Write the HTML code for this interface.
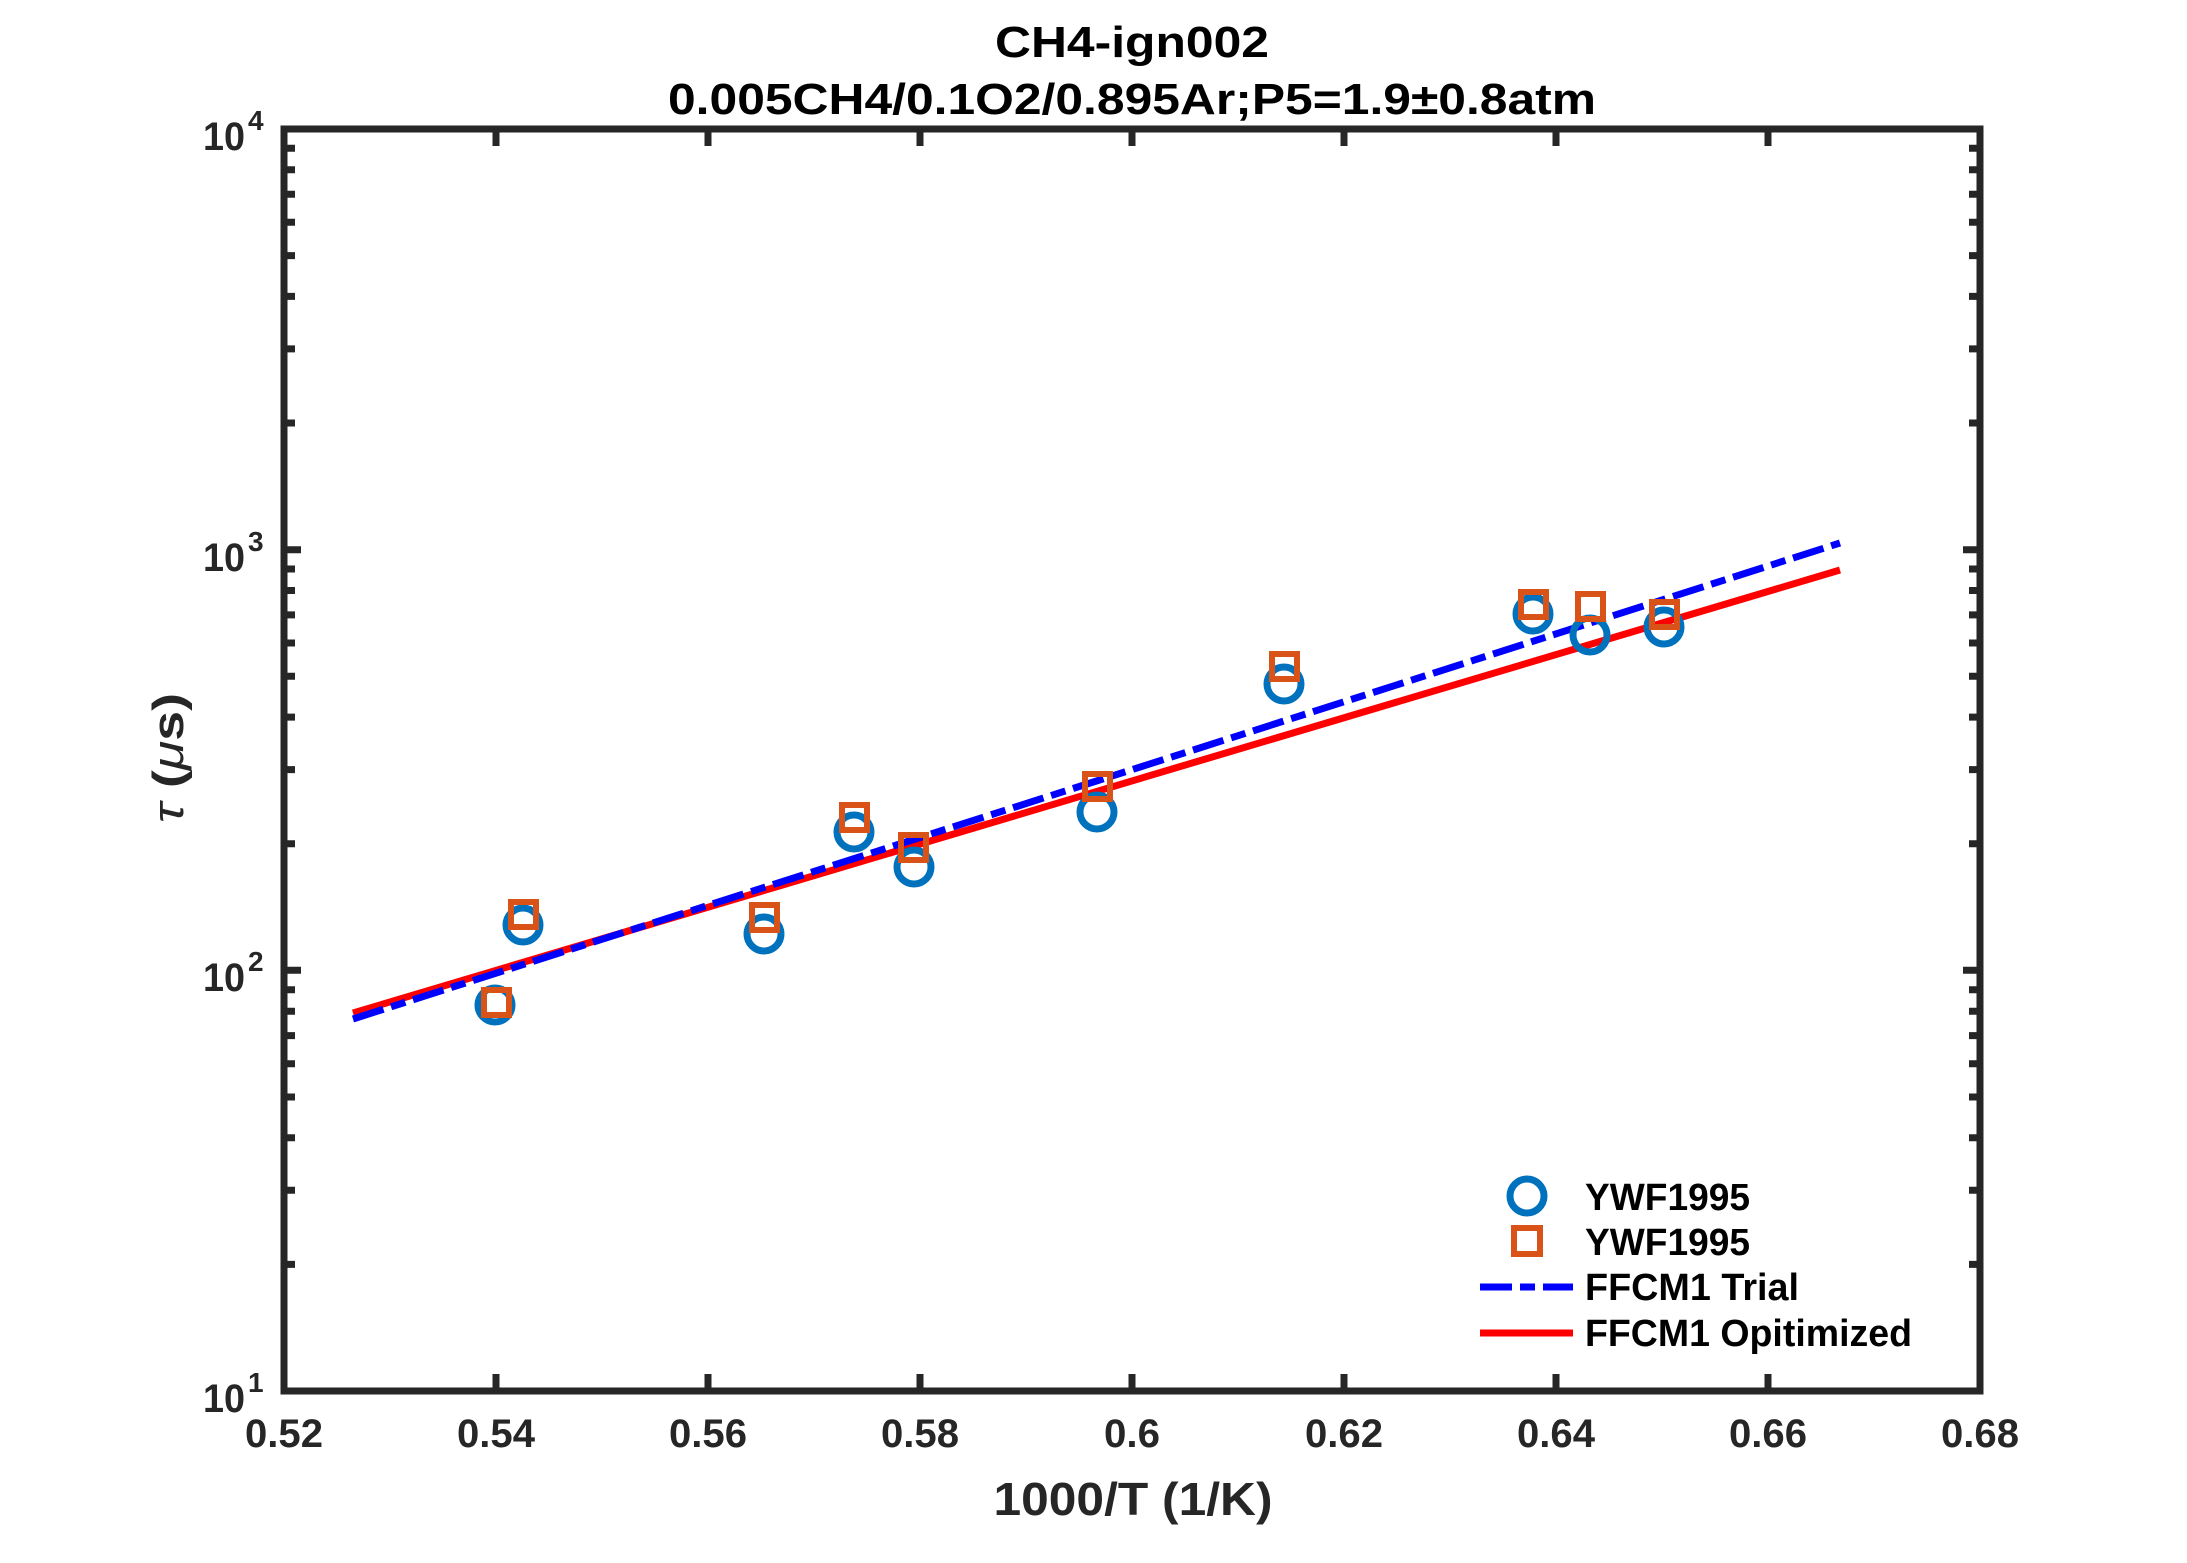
<!DOCTYPE html>
<html><head><meta charset="utf-8"><style>html,body{margin:0;padding:0;background:#fff}svg{display:block}</style></head>
<body>
<svg width="2187" height="1563" viewBox="0 0 2187 1563" xmlns="http://www.w3.org/2000/svg" font-family="Liberation Sans, Arial, sans-serif" font-weight="bold">
<rect width="2187" height="1563" fill="#fff"/>
<!-- title -->
<text x="1132" y="57" font-size="44" text-anchor="middle" fill="#000" textLength="274" lengthAdjust="spacingAndGlyphs">CH4-ign002</text>
<text x="1132" y="114" font-size="44" text-anchor="middle" fill="#000" textLength="928" lengthAdjust="spacingAndGlyphs">0.005CH4/0.1O2/0.895Ar;P5=1.9±0.8atm</text>

<!-- series lines -->
<line x1="353" y1="1013" x2="1840" y2="570" stroke="#ff0000" stroke-width="7"/>
<line x1="353" y1="1019" x2="1840" y2="543" stroke="#0000ff" stroke-width="7" stroke-dasharray="32,8,15,8"/>

<!-- circles -->
<g fill="none" stroke="#0072bd" stroke-width="7">
<circle cx="495" cy="1005" r="17"/><circle cx="523" cy="925" r="17"/><circle cx="764" cy="934" r="17"/>
<circle cx="854" cy="832" r="17"/><circle cx="914" cy="867" r="17"/><circle cx="1097" cy="812" r="17"/>
<circle cx="1284" cy="684" r="17"/><circle cx="1533" cy="614" r="17"/><circle cx="1590" cy="635" r="17"/>
<circle cx="1664" cy="627" r="17"/>
</g>
<!-- squares -->
<g fill="none" stroke="#d95319" stroke-width="6">
<rect x="484" y="990" width="25" height="25"/><rect x="511" y="902" width="25" height="25"/><rect x="752" y="905" width="25" height="25"/>
<rect x="842" y="805" width="25" height="25"/><rect x="901" y="835" width="25" height="25"/><rect x="1085" y="774" width="25" height="25"/>
<rect x="1272" y="654" width="25" height="25"/><rect x="1521" y="592" width="25" height="25"/><rect x="1578" y="594" width="25" height="25"/>
<rect x="1652" y="602" width="25" height="25"/>
</g>

<!-- axes box -->
<rect x="284" y="129" width="1696" height="1262" fill="none" stroke="#262626" stroke-width="7"/>
<!-- ticks -->
<g stroke="#262626" stroke-width="7">
<path d="M496,1391v-17M708,1391v-17M920,1391v-17M1132,1391v-17M1344,1391v-17M1556,1391v-17M1768,1391v-17
M496,129v17M708,129v17M920,129v17M1132,129v17M1344,129v17M1556,129v17M1768,129v17
M284,549.7h17M284,970.3h17M1980,549.7h-17M1980,970.3h-17"/>
<path d="
M284,1264.4h11M284,1190.3h11M284,1137.8h11M284,1097h11M284,1063.7h11M284,1035.6h11M284,1011.2h11M284,989.7h11
M284,843.7h11M284,769.6h11M284,717.1h11M284,676.3h11M284,643h11M284,614.9h11M284,590.5h11M284,569h11
M284,423h11M284,348.9h11M284,296.4h11M284,255.6h11M284,222.3h11M284,194.2h11M284,169.8h11M284,148.3h11
M1980,1264.4h-11M1980,1190.3h-11M1980,1137.8h-11M1980,1097h-11M1980,1063.7h-11M1980,1035.6h-11M1980,1011.2h-11M1980,989.7h-11
M1980,843.7h-11M1980,769.6h-11M1980,717.1h-11M1980,676.3h-11M1980,643h-11M1980,614.9h-11M1980,590.5h-11M1980,569h-11
M1980,423h-11M1980,348.9h-11M1980,296.4h-11M1980,255.6h-11M1980,222.3h-11M1980,194.2h-11M1980,169.8h-11M1980,148.3h-11"/>
</g>

<!-- x tick labels -->
<g font-size="40" fill="#262626" text-anchor="middle">
<text x="284" y="1447" textLength="78" lengthAdjust="spacingAndGlyphs">0.52</text>
<text x="496" y="1447" textLength="78" lengthAdjust="spacingAndGlyphs">0.54</text>
<text x="708" y="1447" textLength="78" lengthAdjust="spacingAndGlyphs">0.56</text>
<text x="920" y="1447" textLength="78" lengthAdjust="spacingAndGlyphs">0.58</text>
<text x="1132" y="1447" textLength="56" lengthAdjust="spacingAndGlyphs">0.6</text>
<text x="1344" y="1447" textLength="78" lengthAdjust="spacingAndGlyphs">0.62</text>
<text x="1556" y="1447" textLength="78" lengthAdjust="spacingAndGlyphs">0.64</text>
<text x="1768" y="1447" textLength="78" lengthAdjust="spacingAndGlyphs">0.66</text>
<text x="1980" y="1447" textLength="78" lengthAdjust="spacingAndGlyphs">0.68</text>
</g>
<!-- y tick labels -->
<g fill="#262626">
<text x="203" y="1412" font-size="40" textLength="42" lengthAdjust="spacingAndGlyphs">10</text><text x="248" y="1392" font-size="28">1</text>
<text x="203" y="991" font-size="40" textLength="42" lengthAdjust="spacingAndGlyphs">10</text><text x="248" y="971" font-size="28">2</text>
<text x="203" y="571" font-size="40" textLength="42" lengthAdjust="spacingAndGlyphs">10</text><text x="248" y="551" font-size="28">3</text>
<text x="203" y="150" font-size="40" textLength="42" lengthAdjust="spacingAndGlyphs">10</text><text x="248" y="130" font-size="28">4</text>
</g>

<!-- axis labels -->
<text x="1133" y="1515" font-size="46" fill="#262626" text-anchor="middle" textLength="279" lengthAdjust="spacingAndGlyphs">1000/T (1/K)</text>
<text transform="translate(183,758) rotate(-90)" font-size="44" fill="#262626" text-anchor="middle" textLength="130" lengthAdjust="spacingAndGlyphs"><tspan font-style="italic" font-weight="normal">τ</tspan> (<tspan font-style="italic" font-weight="normal">μ</tspan>s)</text>

<!-- legend -->
<circle cx="1527" cy="1196" r="17" fill="none" stroke="#0072bd" stroke-width="7"/>
<rect x="1514" y="1228" width="26" height="26" fill="none" stroke="#d95319" stroke-width="6"/>
<line x1="1480" y1="1287" x2="1573" y2="1287" stroke="#0000ff" stroke-width="7" stroke-dasharray="32,8,15,8"/>
<line x1="1480" y1="1333" x2="1573" y2="1333" stroke="#ff0000" stroke-width="7"/>
<g font-size="38" fill="#000">
<text x="1585" y="1210" textLength="165" lengthAdjust="spacingAndGlyphs">YWF1995</text>
<text x="1585" y="1255" textLength="165" lengthAdjust="spacingAndGlyphs">YWF1995</text>
<text x="1585" y="1300" textLength="214" lengthAdjust="spacingAndGlyphs">FFCM1 Trial</text>
<text x="1585" y="1346" textLength="327" lengthAdjust="spacingAndGlyphs">FFCM1 Opitimized</text>
</g>
</svg>
</body></html>
